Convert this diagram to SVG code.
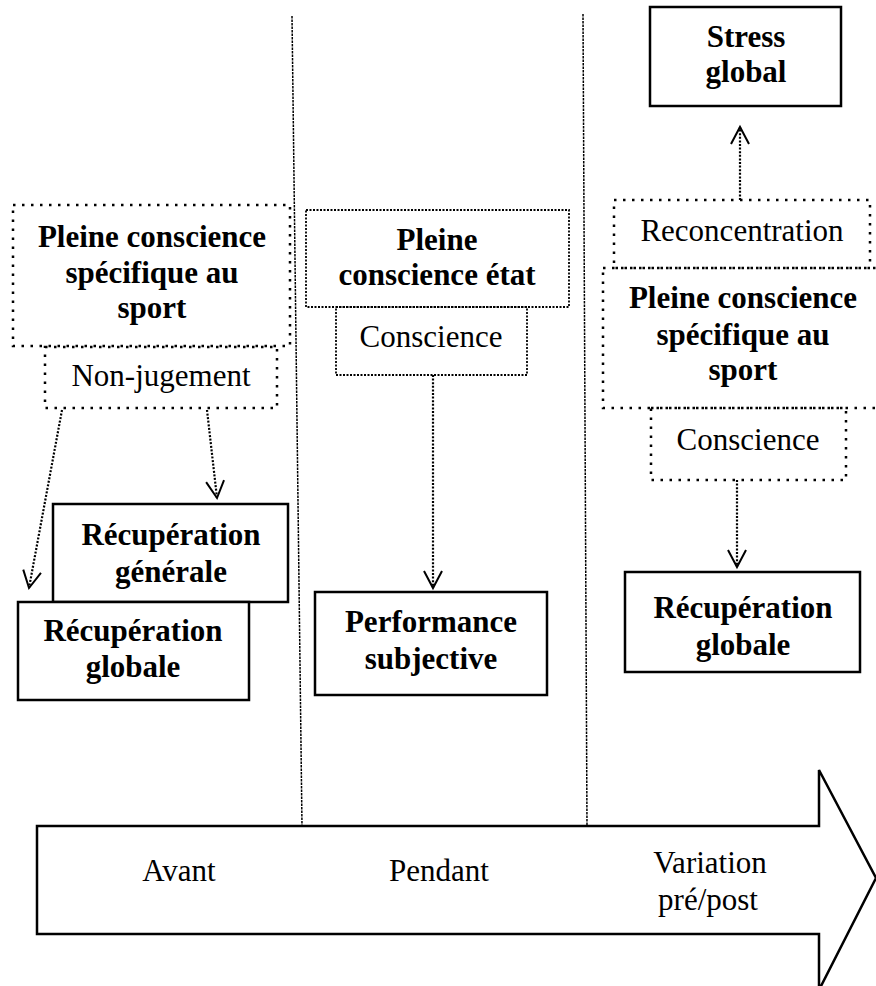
<svg xmlns="http://www.w3.org/2000/svg" width="876" height="986" viewBox="0 0 876 986">
<style>
text{font-family:"Liberation Serif","Times New Roman",serif;font-size:31px;fill:#000;text-anchor:middle}
.b{font-weight:bold}
.solid{fill:#fff;stroke:#000;stroke-width:2.5}
.dot{fill:none;stroke:#000;stroke-width:2.5;stroke-dasharray:2.5 6.5}
.fdot{fill:none;stroke:#000;stroke-width:1.8;stroke-dasharray:2 1.5}
.conn{fill:none;stroke:#000;stroke-width:2.2;stroke-dasharray:2 1.6}
.div{fill:none;stroke:#000;stroke-width:1.5;stroke-dasharray:2.5 1}
</style>
<defs>
<marker id="v" markerUnits="userSpaceOnUse" markerWidth="40" markerHeight="40" viewBox="-20 -20 40 40" refX="0" refY="0" orient="auto">
<path d="M-17,-9 L0,0 L-17,9" fill="none" stroke="#000" stroke-width="2"/>
</marker>
</defs>
<g id="timeline">
<path class="solid" d="M37,826 H819 V770 L876,878 L819,990 V934 H37 Z"/>
<text x="179" y="881">Avant</text>
<text x="439" y="881">Pendant</text>
<text x="710" y="873">Variation</text>
<text x="708" y="910">pré/post</text>
</g>
<g id="dividers">
<line class="div" x1="292" y1="16" x2="302" y2="826"/>
<line class="div" x1="583" y1="14" x2="587" y2="826"/>
</g>
<g id="connectors">
<line class="conn" x1="62" y1="410" x2="29" y2="588" marker-end="url(#v)"/>
<line class="conn" x1="207" y1="410" x2="217" y2="498" marker-end="url(#v)"/>
<line class="conn" x1="433" y1="375" x2="433" y2="588" marker-end="url(#v)"/>
<line class="conn" x1="737" y1="480" x2="737" y2="567" marker-end="url(#v)"/>
<line class="conn" x1="740" y1="200" x2="740" y2="127" marker-end="url(#v)"/>
</g>
<g id="n-pleine-left">
<rect class="dot" x="13" y="205" width="277" height="141"/>
<text class="b" x="152" y="247">Pleine conscience</text>
<text class="b" x="152" y="283">spécifique au</text>
<text class="b" x="152" y="318">sport</text>
</g>
<g id="n-nonjugement">
<rect class="dot" x="45" y="347" width="232" height="61"/>
<text x="161" y="386">Non-jugement</text>
</g>
<g id="n-recup-generale">
<rect class="solid" x="53" y="504" width="235" height="98"/>
<text class="b" x="171" y="545">Récupération</text>
<text class="b" x="171" y="582">générale</text>
</g>
<g id="n-recup-globale-left">
<rect class="solid" x="18" y="602" width="231" height="98"/>
<text class="b" x="133" y="641">Récupération</text>
<text class="b" x="133" y="677">globale</text>
</g>
<g id="n-pleine-etat">
<rect class="fdot" x="306" y="210" width="263" height="97"/>
<text class="b" x="437" y="250">Pleine</text>
<text class="b" x="437" y="285">conscience état</text>
</g>
<g id="n-conscience-mid">
<rect class="fdot" x="336" y="307" width="191" height="68"/>
<text x="431" y="347">Conscience</text>
</g>
<g id="n-performance">
<rect class="solid" x="315" y="592" width="232" height="103"/>
<text class="b" x="431" y="632">Performance</text>
<text class="b" x="431" y="669">subjective</text>
</g>
<g id="n-stress">
<rect class="solid" x="650" y="7" width="191" height="99"/>
<text class="b" x="746" y="47">Stress</text>
<text class="b" x="746" y="82">global</text>
</g>
<g id="n-reconcentration">
<rect class="dot" x="614" y="200" width="256" height="68"/>
<text x="742" y="241">Reconcentration</text>
</g>
<g id="n-pleine-right">
<rect class="dot" x="603" y="268" width="282" height="140"/>
<text class="b" x="743" y="308">Pleine conscience</text>
<text class="b" x="743" y="345">spécifique au</text>
<text class="b" x="743" y="380">sport</text>
</g>
<g id="n-conscience-right">
<rect class="dot" x="651" y="408" width="195" height="72"/>
<text x="748" y="450">Conscience</text>
</g>
<g id="n-recup-globale-right">
<rect class="solid" x="625" y="572" width="235" height="100"/>
<text class="b" x="743" y="618">Récupération</text>
<text class="b" x="743" y="655">globale</text>
</g>
</svg>
